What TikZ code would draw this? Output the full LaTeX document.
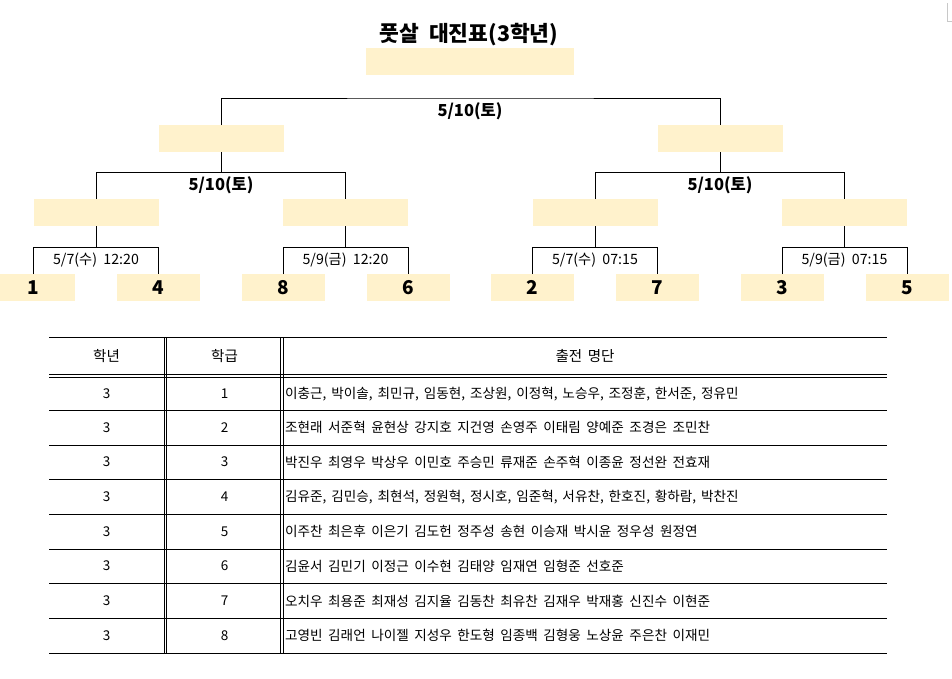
\documentclass[tikz,border=0pt]{standalone}
\usepackage{fontspec}
\setmainfont{Noto Sans CJK KR}
\definecolor{boxfill}{HTML}{FFF2CC}
\definecolor{markgray}{HTML}{C8C8C8}
\newcommand{\setnamespace}{\spaceskip=5.5pt\relax}
\newcommand{\setcommaspace}{\spaceskip=4.9pt\relax}
\begin{document}
\begin{tikzpicture}[x=1pt,y=-1pt,
  box/.style={fill=boxfill, draw=none, minimum width=125pt, minimum height=27pt, inner sep=0pt, outer sep=0pt},
  leafbox/.style={fill=boxfill, draw=none, minimum width=83pt, minimum height=27pt, inner sep=0pt, outer sep=0pt, font=\fontsize{19}{22}\selectfont\bfseries},
  num/.style={inner sep=0pt, font=\fontsize{19}{22}\selectfont\bfseries},
  conn/.style={draw=black, line width=1pt},
  dbl/.style={draw=black, double=white, line width=0.7pt, double distance=1.2pt},
  titlelbl/.style={inner sep=0pt, font=\fontsize{21.5}{25}\selectfont\bfseries},
  datelbl/.style={inner sep=0pt, font=\fontsize{16.5}{19}\selectfont\bfseries},
  timelbl/.style={inner sep=0pt, font=\fontsize{14.2}{17}\selectfont},
  tline/.style={draw=black, line width=1pt},
  headtxt/.style={inner sep=0pt, font=\fontsize{14.5}{17}\selectfont, execute at begin node=\setnamespace},
  celltxt/.style={inner sep=0pt, font=\fontsize{13.5}{16}\selectfont},
  nametxt/.style={inner sep=0pt, anchor=west, font=\fontsize{13.6}{16}\selectfont, execute at begin node=\setnamespace},
  commatxt/.style={inner sep=0pt, anchor=west, font=\fontsize{13.6}{16}\selectfont, execute at begin node=\setcommaspace}]
\useasboundingbox (0,0) rectangle (952,678);

% corner mark
\draw[markgray, line width=0.8pt] (947.3,3) -- (947.3,21) -- (952,21);

% title
\node[titlelbl] (title) at (469,35) {풋살\ \ 대진표(3학년)};

% boxes
\node[box, minimum width=208pt] (T) at (470,61.5) {};
\node[box] (L2a) at (221,138.5) {};
\node[box] (L2b) at (720,138.5) {};
\node[box] (L3a) at (96,212.5) {};
\node[box] (L3b) at (345.5,212.5) {};
\node[box] (L3c) at (595,212.5) {};
\node[box] (L3d) at (844.5,212.5) {};

\node[leafbox, minimum width=75pt] (leaf1) at (37.5,287.5) {};
\node[num] (n1) at (33.5,287.5) {1};
\node[leafbox] (leaf4) at (158.5,287.5) {4};
\node[leafbox] (leaf8) at (283,287.5) {8};
\node[leafbox] (leaf6) at (408,287.5) {6};
\node[leafbox] (leaf2) at (532.5,287.5) {2};
\node[leafbox] (leaf7) at (657.5,287.5) {7};
\node[leafbox] (leaf3) at (782,287.5) {3};
\node[leafbox] (leaf5) at (907,287.5) {5};

% connector levels
\coordinate (y1) at (0,98);
\coordinate (y2) at (0,172.3);
\coordinate (y3) at (0,247.3);

\draw[dbl] (T.south) -- (T.south |- y1);
\draw[conn] (L2a.north) |- (T.south |- y1) -| (L2b.north);

\draw[conn] (L2a.south) -- (L2a.south |- y2);
\draw[conn] (L3a.north) |- (L2a.south |- y2) -| (L3b.north);
\draw[conn] (L2b.south) -- (L2b.south |- y2);
\draw[conn] (L3c.north) |- (L2b.south |- y2) -| (L3d.north);

\draw[conn] (L3a.south) -- (L3a.south |- y3);
\draw[conn] (L3a.west |- leaf1.north) |- (L3a.south |- y3) -| (leaf4.north);
\draw[conn] (L3b.south) -- (L3b.south |- y3);
\draw[conn] (leaf8.north) |- (L3b.south |- y3) -| (leaf6.north);
\draw[conn] (L3c.south) -- (L3c.south |- y3);
\draw[conn] (leaf2.north) |- (L3c.south |- y3) -| (leaf7.north);
\draw[conn] (L3d.south) -- (L3d.south |- y3);
\draw[conn] (leaf3.north) |- (L3d.south |- y3) -| (leaf5.north);

% labels
\node[datelbl] (d1) at (470,111) {5/10(토)};
\node[datelbl] (d2) at (221,185) {5/10(토)};
\node[datelbl] (d3) at (720,185) {5/10(토)};
\node[timelbl] (t1) at (96,260) {5/7(수)\ \ 12:20};
\node[timelbl] (t2) at (345.5,260) {5/9(금)\ \ 12:20};
\node[timelbl] (t3) at (595,260) {5/7(수)\ \ 07:15};
\node[timelbl] (t4) at (844.5,260) {5/9(금)\ \ 07:15};

% table
\foreach \yy in {337,374,377.5,410,445,479.5,514,549,583.5,618,653}
  \draw[tline] (49,\yy) -- (887,\yy);
\foreach \xx in {164,166.7,280.7,283.3}
  \draw[tline] (\xx,337) -- (\xx,653);

\node[headtxt] (h1) at (106.5,356) {학년};
\node[headtxt] (h2) at (224.5,356) {학급};
\node[headtxt] (h3) at (585,356) {출전 명단};

\foreach \yy/\cc [count=\i] in {394/1,427.5/2,462/3,497/4,531.5/5,566/6,601/7,635.5/8}{
  \node[celltxt] (g\i) at (106.5,\yy) {3};
  \node[celltxt] (c\i) at (224.5,\yy) {\cc};
}

\node[commatxt] (m1) at (285,394) {이충근, 박이솔, 최민규, 임동현, 조상원, 이정혁, 노승우, 조정훈, 한서준, 정유민};
\node[nametxt] (m2) at (285,427.5) {조현래 서준혁 윤현상 강지호 지건영 손영주 이태림 양예준 조경은 조민찬};
\node[nametxt] (m3) at (285,462) {박진우 최영우 박상우 이민호 주승민 류재준 손주혁 이종윤 정선완 전효재};
\node[commatxt] (m4) at (285,497) {김유준, 김민승, 최현석, 정원혁, 정시호, 임준혁, 서유찬, 한호진, 황하람, 박찬진};
\node[nametxt] (m5) at (285,531.5) {이주찬 최은후 이은기 김도헌 정주성 송현 이승재 박시윤 정우성 원정연};
\node[nametxt] (m6) at (285,566) {김윤서 김민기 이정근 이수현 김태양 임재연 임형준 선호준};
\node[nametxt] (m7) at (285,601) {오치우 최용준 최재성 김지율 김동찬 최유찬 김재우 박재홍 신진수 이현준};
\node[nametxt] (m8) at (285,635.5) {고영빈 김래언 나이젤 지성우 한도형 임종백 김형웅 노상윤 주은찬 이재민};
\end{tikzpicture}
\end{document}
